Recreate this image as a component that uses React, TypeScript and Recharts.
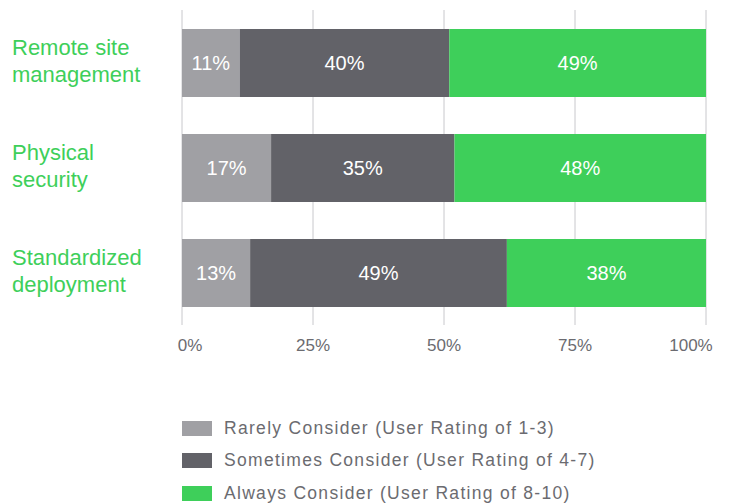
import { Bar, BarChart, CartesianGrid, LabelList, XAxis, YAxis } from "recharts";

const categories = ["Remote site management", "Physical security", "Standardized deployment"];
const categoryLines = [
  ["Remote site", "management"],
  ["Physical", "security"],
  ["Standardized", "deployment"],
];
const rarely = [11, 17, 13];
const sometimes = [40, 35, 49];
const always = [49, 48, 38];
const xTicks = [0, 25, 50, 75, 100];

const COL_RARELY = "#a0a0a4";
const COL_SOMETIMES = "#626268";
const COL_ALWAYS = "#3ecf5a";
const FONT = "'Liberation Sans', Arial, Helvetica, sans-serif";

const series = [
  { key: "rarely", name: "Rarely Consider (User Rating of 1-3)", color: COL_RARELY },
  { key: "sometimes", name: "Sometimes Consider (User Rating of 4-7)", color: COL_SOMETIMES },
  { key: "always", name: "Always Consider (User Rating of 8-10)", color: COL_ALWAYS },
];

const data = categories.map((name, i) => ({
  name,
  rarely: rarely[i],
  sometimes: sometimes[i],
  always: always[i],
}));

const pct = (v: any) => `${v}%`;

function CategoryTick(props: any) {
  const { y, payload } = props;
  const idx = categories.indexOf(payload.value);
  const lines = categoryLines[idx] || [payload.value];
  return (
    <text x={12} y={y} fill={COL_ALWAYS} fontSize={22} fontFamily={FONT} textAnchor="start">
      <tspan x={12} dy={-7.5}>{lines[0]}</tspan>
      <tspan x={12} dy={27}>{lines[1]}</tspan>
    </text>
  );
}

function PercentTick(props: any) {
  const { x, y, payload, index } = props;
  let dx = 0;
  if (index === 0) dx = 8;
  if (index === xTicks.length - 1) dx = -15;
  return (
    <text x={x + dx} y={y} dy={18} fill="#6b6b70" fontSize={17} fontFamily={FONT} textAnchor="middle">
      {pct(payload.value)}
    </text>
  );
}

export default function App() {
  return (
    <div style={{ position: "absolute", left: 0, top: 0, width: 729, height: 503, background: "#fff" }}>
      <BarChart
        width={729}
        height={503}
        data={data}
        layout="vertical"
        margin={{ top: 10, right: 23, left: 12, bottom: 148 }}
        barSize={68}
      >
        <CartesianGrid horizontal={false} stroke="#c8c8cc" />
        <XAxis
          type="number"
          domain={[0, 100]}
          ticks={xTicks}
          axisLine={false}
          tickLine={false}
          tick={<PercentTick />}
          interval={0}
          height={30}
        />
        <YAxis
          type="category"
          dataKey="name"
          width={170}
          axisLine={false}
          tickLine={false}
          tick={<CategoryTick />}
        />
        {series.map((s) => (
          <Bar key={s.key} dataKey={s.key} stackId="a" name={s.name} fill={s.color} isAnimationActive={false}>
            <LabelList dataKey={s.key} position="center" formatter={pct} fill="#fff" fontSize={20} fontFamily={FONT} />
          </Bar>
        ))}
      </BarChart>
      <div style={{ position: "absolute", left: 182, top: 412, fontFamily: FONT }}>
        {series.map((s) => (
          <div key={s.key} style={{ display: "flex", alignItems: "center", height: 32.5 }}>
            <span style={{ display: "inline-block", width: 30, height: 15, background: s.color, marginRight: 12 }} />
            <span style={{ fontSize: 17.5, letterSpacing: 1.3, color: "#6b6b70", whiteSpace: "nowrap" }}>{s.name}</span>
          </div>
        ))}
      </div>
    </div>
  );
}
